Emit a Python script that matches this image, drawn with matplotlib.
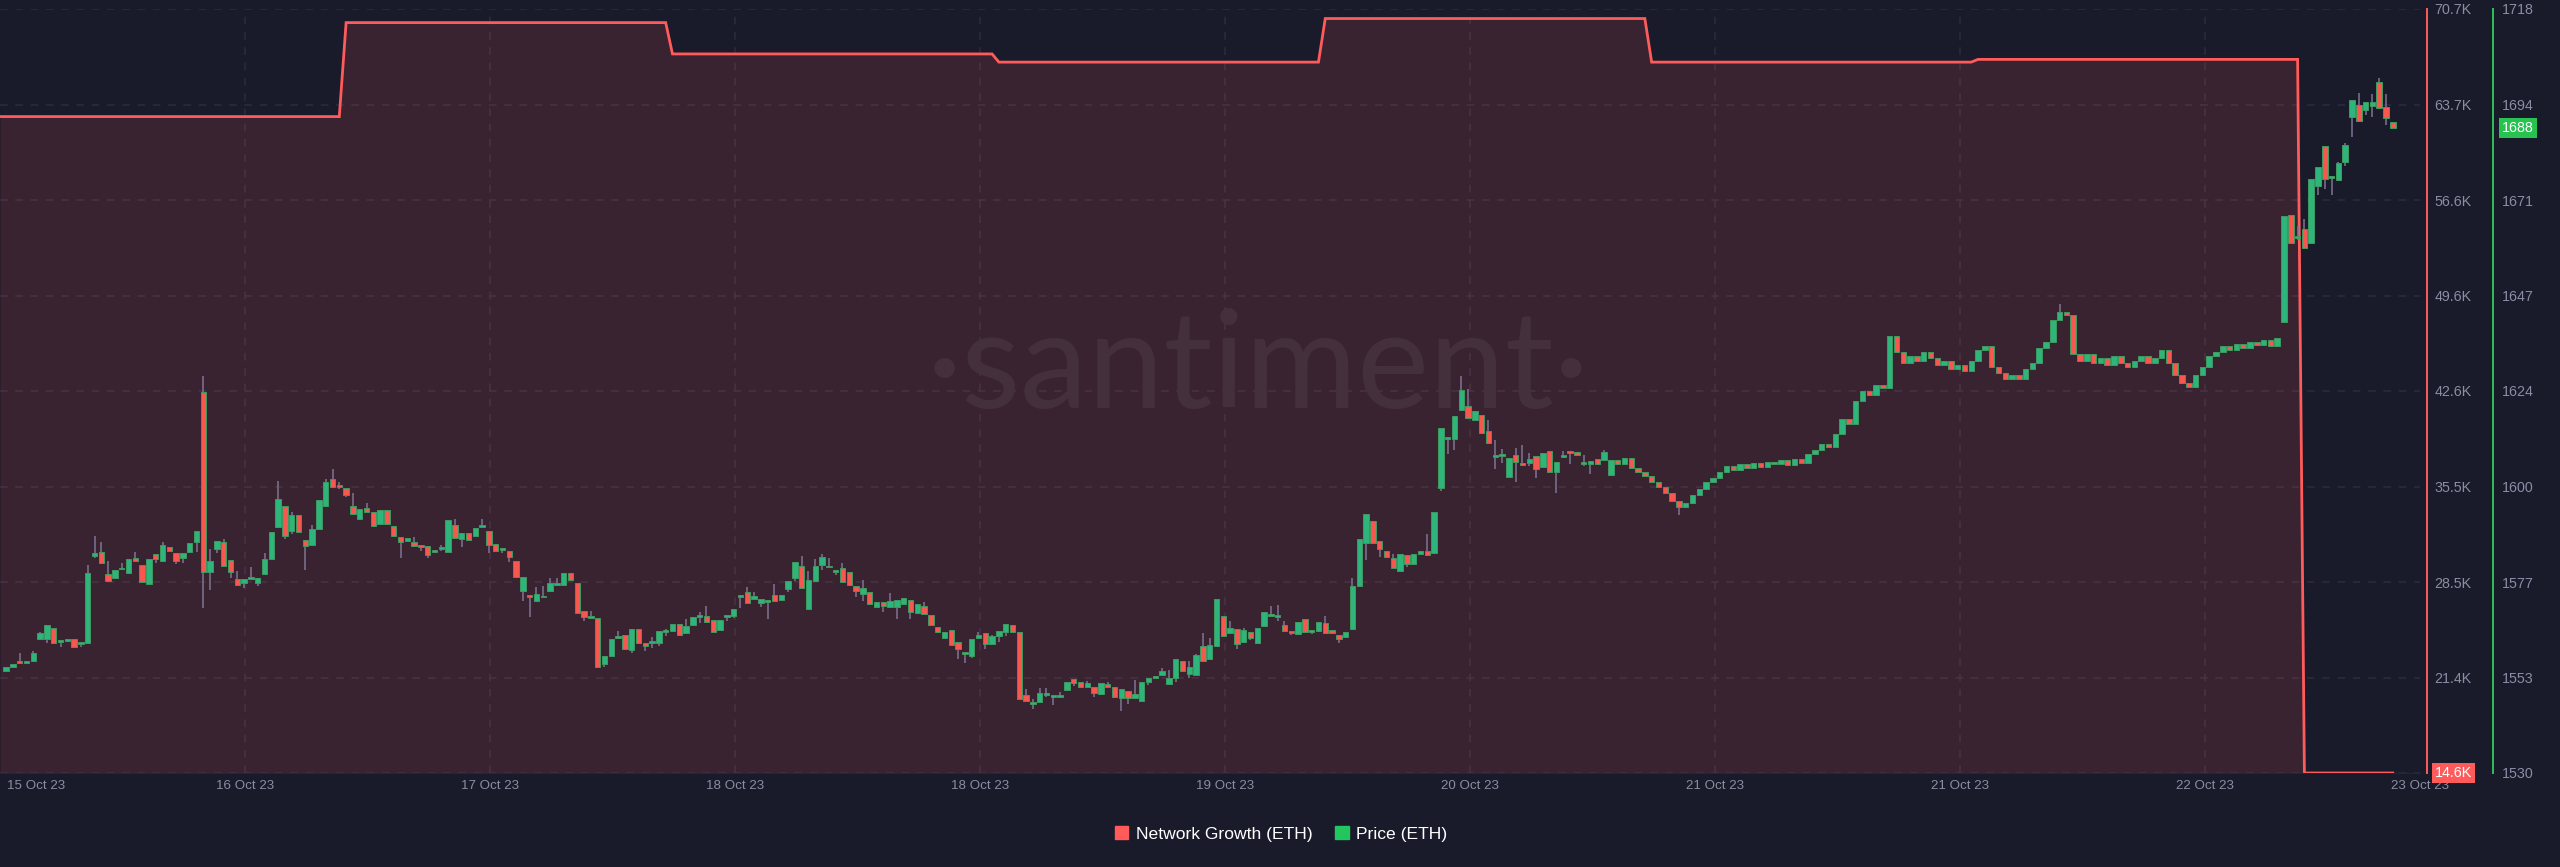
import numpy as np
import matplotlib
matplotlib.use("Agg")
import matplotlib.pyplot as plt
from matplotlib.patches import Patch
from matplotlib.transforms import blended_transform_factory

# ---- network growth (ETH), one value per day, in thousands ----
ng_daily = [62.8, 69.7, 67.4, 66.8, 70.0, 66.8, 67.0, 14.6]
ng_first_step = 49          # candle index where the first daily step happens
candles_per_day = 48        # 30 min candles

# ---- price (ETH) 30 min candles ----
price_open = [
    1555.2, 1556.0, 1557.2, 1557.0, 1557.5, 1563.0, 1563.0, 1565.6, 1562.2, 1562.5,
    1562.9, 1561.8, 1562.1, 1583.5, 1584.3, 1579.0, 1578.0, 1580.1, 1579.1, 1582.8,
    1581.2, 1576.4, 1583.9, 1582.1, 1585.5, 1584.2, 1582.9, 1584.4, 1586.8, 1623.7,
    1579.5, 1585.2, 1586.9, 1582.5, 1577.7, 1576.8, 1577.7, 1576.8, 1578.9, 1582.6,
    1590.5, 1595.7, 1589.6, 1593.5, 1587.3, 1586.0, 1590.0, 1595.8, 1602.3, 1600.5,
    1600.2, 1595.7, 1592.4, 1595.1, 1594.3, 1591.3, 1594.7, 1590.7, 1588.1, 1587.0,
    1586.8, 1585.9, 1585.9, 1584.9, 1585.2, 1584.4, 1591.0, 1587.6, 1589.0, 1588.3,
    1590.5, 1589.6, 1586.3, 1585.1, 1584.6, 1582.2, 1574.7, 1573.8, 1572.4, 1573.2,
    1574.8, 1576.3, 1576.2, 1579.1, 1576.8, 1569.9, 1568.3, 1568.1, 1556.8, 1558.8,
    1563.3, 1564.0, 1560.3, 1565.4, 1561.9, 1562.0, 1562.1, 1564.7, 1565.0, 1566.6,
    1564.4, 1566.3, 1568.5, 1568.7, 1567.7, 1565.2, 1568.4, 1568.7, 1573.2, 1574.6,
    1572.7, 1571.8, 1572.6, 1573.8, 1572.6, 1575.3, 1577.9, 1580.9, 1570.3, 1577.3,
    1581.2, 1580.9, 1579.5, 1580.4, 1579.5, 1576.0, 1574.0, 1574.5, 1570.9, 1572.0,
    1570.9, 1570.9, 1571.5, 1572.6, 1569.3, 1571.2, 1569.0, 1566.0, 1563.1, 1565.2,
    1562.3, 1559.7, 1558.9, 1563.1, 1564.5, 1561.7, 1563.6, 1564.6, 1566.3, 1564.8,
    1549.2, 1547.3, 1547.4, 1549.2, 1548.8, 1548.8, 1550.4, 1553.1, 1552.3, 1551.1,
    1551.1, 1549.4, 1551.9, 1551.2, 1548.4, 1550.2, 1548.4, 1547.8, 1552.5, 1553.5,
    1554.0, 1551.9, 1553.5, 1557.5, 1554.4, 1554.2, 1561.3, 1558.0, 1561.3, 1568.7,
    1564.5, 1565.5, 1562.2, 1564.7, 1562.1, 1566.2, 1568.6, 1568.3, 1566.3, 1564.6,
    1564.2, 1567.8, 1564.9, 1565.0, 1567.0, 1565.2, 1564.0, 1563.4, 1565.4, 1576.0,
    1586.5, 1591.9, 1587.2, 1584.7, 1583.0, 1579.8, 1583.7, 1581.4, 1583.9, 1584.7,
    1584.2, 1600.1, 1612.2, 1612.2, 1619.3, 1620.2, 1616.9, 1618.1, 1614.2, 1607.7,
    1608.0, 1602.9, 1608.3, 1606.1, 1606.2, 1607.9, 1605.2, 1609.3, 1604.0, 1607.7,
    1609.1, 1609.1, 1606.5, 1606.0, 1607.2, 1606.9, 1603.4, 1607.0, 1606.0, 1607.5,
    1605.0, 1604.0, 1603.0, 1601.5, 1600.5, 1599.0, 1597.0, 1595.5, 1596.5, 1598.5,
    1600.0, 1601.5, 1602.5, 1604.0, 1605.5, 1604.5, 1606.0, 1605.0, 1606.2, 1605.4,
    1606.5, 1606.0, 1607.0, 1605.8, 1607.2, 1606.4, 1608.5, 1609.5, 1611.0, 1610.2,
    1613.5, 1617.0, 1616.0, 1621.5, 1624.0, 1623.0, 1625.5, 1624.8, 1637.5, 1633.5,
    1631.0, 1632.5, 1631.5, 1633.5, 1632.0, 1630.5, 1631.5, 1629.5, 1630.5, 1629.0,
    1631.5, 1634.0, 1635.0, 1630.0, 1628.5, 1627.0, 1628.0, 1627.0, 1629.5, 1631.0,
    1634.5, 1636.0, 1641.5, 1643.5, 1642.8, 1633.0, 1631.5, 1633.0, 1631.0, 1632.0,
    1630.5, 1632.5, 1631.0, 1630.0, 1631.5, 1632.5, 1631.0, 1632.0, 1634.0, 1631.0,
    1628.0, 1626.0, 1625.0, 1628.0, 1630.0, 1632.5, 1633.5, 1635.0, 1634.0, 1635.5,
    1634.5, 1636.0, 1635.2, 1636.5, 1635.0, 1641.0, 1667.3, 1661.7, 1663.8, 1660.5,
    1674.5, 1684.4, 1676.5, 1675.8, 1680.3, 1691.5, 1694.3, 1693.2, 1694.2, 1700.1,
    1694.0, 1690.1,
]
price_close = [
    1556.0, 1556.8, 1557.0, 1557.6, 1559.6, 1564.4, 1566.3, 1561.9, 1562.3, 1562.9,
    1561.1, 1562.3, 1579.3, 1584.1, 1581.6, 1577.3, 1580.0, 1580.3, 1582.7, 1582.1,
    1577.1, 1582.6, 1582.6, 1586.1, 1584.6, 1582.2, 1584.2, 1586.6, 1589.6, 1579.4,
    1582.1, 1587.0, 1581.0, 1579.4, 1576.2, 1577.8, 1577.8, 1577.9, 1582.6, 1589.4,
    1597.4, 1588.4, 1593.6, 1589.2, 1585.9, 1590.0, 1597.1, 1601.6, 1600.5, 1600.3,
    1598.3, 1593.7, 1595.0, 1594.3, 1590.8, 1594.8, 1591.3, 1588.2, 1586.9, 1587.8,
    1585.8, 1585.6, 1583.7, 1584.3, 1585.5, 1592.2, 1587.8, 1589.0, 1587.3, 1590.4,
    1590.9, 1586.0, 1584.6, 1584.9, 1583.2, 1578.2, 1578.2, 1573.2, 1574.1, 1573.3,
    1576.8, 1576.7, 1579.1, 1577.4, 1569.3, 1568.3, 1568.2, 1556.0, 1558.9, 1562.9,
    1563.5, 1560.5, 1565.4, 1562.1, 1561.3, 1562.1, 1564.9, 1564.8, 1566.7, 1564.0,
    1566.2, 1568.5, 1568.9, 1567.1, 1564.6, 1567.7, 1568.5, 1570.4, 1573.7, 1571.8,
    1573.6, 1572.7, 1572.2, 1572.4, 1573.8, 1577.3, 1581.8, 1575.6, 1577.5, 1581.0,
    1583.2, 1580.6, 1580.0, 1577.1, 1576.3, 1574.8, 1575.6, 1571.5, 1572.2, 1571.2,
    1572.3, 1572.6, 1573.0, 1569.7, 1571.6, 1569.1, 1566.4, 1564.8, 1564.8, 1561.5,
    1560.5, 1559.4, 1562.9, 1564.0, 1561.7, 1563.6, 1565.0, 1566.7, 1564.8, 1548.1,
    1547.7, 1547.1, 1549.8, 1549.4, 1549.2, 1549.1, 1552.4, 1552.2, 1551.2, 1552.1,
    1549.6, 1552.2, 1551.2, 1548.6, 1550.6, 1548.4, 1549.4, 1552.4, 1553.5, 1553.8,
    1555.1, 1553.5, 1558.1, 1555.2, 1556.0, 1559.0, 1557.6, 1561.5, 1572.8, 1563.8,
    1565.8, 1561.7, 1565.2, 1563.3, 1565.8, 1569.5, 1568.7, 1569.0, 1564.9, 1564.5,
    1567.2, 1564.8, 1564.7, 1567.1, 1564.5, 1564.4, 1563.0, 1564.6, 1576.0, 1587.5,
    1593.7, 1586.7, 1585.0, 1583.2, 1580.4, 1583.8, 1581.4, 1583.9, 1584.7, 1583.7,
    1594.2, 1615.0, 1612.8, 1617.9, 1624.2, 1617.3, 1619.2, 1613.6, 1611.1, 1607.8,
    1608.3, 1607.6, 1606.5, 1605.8, 1607.3, 1604.8, 1608.7, 1604.0, 1606.6, 1608.1,
    1608.7, 1608.3, 1606.1, 1606.8, 1606.0, 1608.9, 1607.0, 1606.0, 1607.5, 1605.0,
    1604.0, 1603.0, 1601.5, 1600.5, 1599.0, 1597.0, 1595.5, 1596.5, 1598.5, 1600.0,
    1601.5, 1602.5, 1604.0, 1605.5, 1604.5, 1606.0, 1605.0, 1606.2, 1605.4, 1606.5,
    1606.0, 1607.0, 1605.8, 1607.2, 1606.4, 1608.5, 1609.5, 1611.0, 1610.2, 1613.5,
    1617.0, 1616.0, 1621.5, 1624.0, 1623.0, 1625.5, 1624.8, 1637.5, 1633.5, 1631.0,
    1632.5, 1631.5, 1633.5, 1632.0, 1630.5, 1631.5, 1629.5, 1630.5, 1629.0, 1631.5,
    1634.0, 1635.0, 1630.0, 1628.5, 1627.0, 1628.0, 1627.0, 1629.5, 1631.0, 1634.5,
    1636.0, 1641.5, 1643.5, 1642.8, 1633.0, 1631.5, 1633.0, 1631.0, 1632.0, 1630.5,
    1632.5, 1631.0, 1630.0, 1631.5, 1632.5, 1631.0, 1632.0, 1634.0, 1631.0, 1628.0,
    1626.0, 1625.0, 1628.0, 1630.0, 1632.5, 1633.5, 1635.0, 1634.0, 1635.5, 1634.5,
    1636.0, 1635.2, 1636.5, 1635.0, 1637.0, 1667.1, 1660.4, 1662.1, 1659.1, 1676.1,
    1679.2, 1676.2, 1676.7, 1680.0, 1684.6, 1695.6, 1690.5, 1695.0, 1695.0, 1693.6,
    1691.1, 1688.7,
]
# wicks that stick out of the body, by candle index
wick_high = {
    2: 1559.5, 4: 1560.0, 5: 1564.8, 12: 1581.2, 13: 1588.2, 14: 1586.9, 15: 1582.2,
    17: 1581.6, 19: 1584.5, 23: 1586.9, 29: 1627.8, 30: 1585.0, 32: 1587.7, 34: 1579.7,
    36: 1580.8, 38: 1584.2, 40: 1601.9, 42: 1594.2, 45: 1591.0, 47: 1602.3, 48: 1604.7,
    49: 1601.7, 51: 1598.8, 53: 1596.5, 60: 1588.0, 64: 1586.0, 66: 1592.4, 70: 1592.5,
    78: 1575.8, 79: 1576.0, 80: 1577.9, 81: 1578.1, 86: 1569.9, 90: 1564.9, 95: 1563.5,
    97: 1565.5, 100: 1567.8, 102: 1569.5, 103: 1571.2, 106: 1568.9, 109: 1575.8,
    110: 1574.6, 113: 1576.4, 117: 1583.5, 118: 1579.8, 119: 1582.6, 120: 1583.9,
    121: 1582.8, 123: 1581.6, 126: 1577.5, 130: 1574.2, 135: 1572.2, 143: 1564.8,
    145: 1564.0, 150: 1550.6, 151: 1548.1, 152: 1551.0, 153: 1550.8, 155: 1550.0,
    159: 1552.7, 162: 1552.5, 166: 1552.9, 170: 1555.9, 171: 1555.4, 174: 1557.6,
    175: 1559.4, 176: 1564.4, 177: 1563.3, 180: 1567.4, 182: 1565.8, 186: 1571.2,
    187: 1571.4, 188: 1567.4, 189: 1564.9, 191: 1568.0, 192: 1565.3, 194: 1568.7,
    198: 1577.9, 204: 1583.8, 209: 1588.8, 214: 1627.8, 215: 1624.4, 218: 1616.9,
    219: 1612.0, 220: 1609.7, 222: 1609.9, 223: 1610.6, 224: 1608.8, 229: 1609.3,
    232: 1608.3, 235: 1609.5, 302: 1645.5, 337: 1664.5, 338: 1666.3, 343: 1680.4,
    344: 1685.1, 346: 1697.3, 348: 1697.0, 349: 1701.0, 350: 1697.1,
}
wick_low = {
    5: 1562.7, 6: 1561.9, 8: 1561.0, 11: 1560.9, 13: 1582.8, 22: 1581.6, 25: 1581.4,
    26: 1581.6, 28: 1584.4, 29: 1570.5, 30: 1575.0, 31: 1584.2, 33: 1577.9, 35: 1575.6,
    37: 1576.0, 41: 1587.7, 42: 1588.8, 44: 1580.0, 49: 1599.9, 50: 1597.8, 58: 1582.9,
    61: 1584.7, 62: 1583.0, 64: 1584.6, 67: 1585.5, 71: 1584.1, 73: 1584.1, 74: 1582.0,
    76: 1572.4, 77: 1568.3, 85: 1567.5, 88: 1556.0, 92: 1559.5, 94: 1559.9, 95: 1560.7,
    96: 1561.3, 97: 1563.6, 102: 1566.9, 106: 1567.3, 107: 1568.1, 108: 1570.7,
    111: 1570.9, 112: 1567.8, 115: 1574.6, 116: 1577.3, 120: 1580.0, 122: 1578.8,
    125: 1573.4, 126: 1572.4, 129: 1569.6, 131: 1568.0, 133: 1567.8, 140: 1558.0,
    141: 1557.0, 142: 1558.2, 144: 1560.5, 146: 1562.3, 147: 1563.6, 151: 1545.7,
    153: 1548.6, 154: 1546.7, 157: 1551.3, 160: 1548.8, 164: 1545.3, 165: 1546.9,
    168: 1551.7, 171: 1551.6, 172: 1552.5, 174: 1553.3, 181: 1560.4, 183: 1562.8,
    187: 1567.5, 189: 1563.9, 192: 1564.2, 196: 1561.9, 200: 1582.4, 202: 1583.2,
    206: 1580.8, 211: 1599.3, 212: 1608.6, 213: 1609.4, 219: 1604.8, 220: 1606.2,
    222: 1601.5, 224: 1605.5, 225: 1602.5, 228: 1598.8, 230: 1606.0, 232: 1605.5,
    233: 1603.6, 246: 1593.5, 337: 1661.2, 340: 1672.2, 341: 1673.8, 342: 1672.3,
    344: 1679.3, 345: 1686.4, 347: 1691.9, 348: 1691.4, 350: 1689.5,
}

# ---- axes labels ----
date_ticks = [35.1, 71.2, 107.2, 143.2, 179.3, 215.3, 251.3, 287.4, 323.4]
date_labels = ["16 Oct 23", "17 Oct 23", "18 Oct 23", "18 Oct 23", "19 Oct 23",
               "20 Oct 23", "21 Oct 23", "21 Oct 23", "22 Oct 23"]
first_date, last_date = "15 Oct 23", "23 Oct 23"
ng_labels = ["", "21.4K", "28.5K", "35.5K", "42.6K", "49.6K", "56.6K", "63.7K", "70.7K"]
price_labels = ["1530", "1553", "1577", "1600", "1624", "1647", "1671", "1694", "1718"]
ng_min, ng_max = 14.6, 70.7
price_min, price_max = 1530, 1718
last_price_tag = "1688"
last_ng_tag = "14.6K"

BG = "#191a2a"
RED = "#ff5b5b"
GREEN_LINE = "#2fc15a"
UP = "#2eb57c"
DOWN = "#f65850"
GRID = "#2a2c40"
TXT = "#8a8ea4"

plt.rcParams["font.family"] = ["Liberation Sans", "DejaVu Sans"]

fig = plt.figure(figsize=(25.6, 8.67), dpi=100, facecolor=BG)
ax = fig.add_axes([0, 94 / 867, 2420 / 2560, 764 / 867])
ax.set_facecolor(BG)
n = len(price_open)
x_left, x_right = -0.9, 355.0
ax.set_xlim(x_left, x_right)
ax.set_ylim(ng_min, ng_max)

# network growth line + area
ng_x, ng_y = [x_left], [ng_daily[0]]
for d, v in enumerate(ng_daily):
    start = x_left if d == 0 else ng_first_step + 1 + candles_per_day * (d - 1)
    end = ng_first_step + candles_per_day * d if d < len(ng_daily) - 1 else n - 1
    ng_x += [start, end]
    ng_y += [v, v]
ax.fill_between(ng_x, ng_y, ng_min, color=RED, alpha=0.145, lw=0, zorder=1)
ax.plot(ng_x, ng_y, color=RED, lw=2.0, zorder=3, solid_joinstyle="miter")

# watermark
ax.text(0.4915, 0.574, "·santiment·", transform=fig.transFigure, ha="center",
        va="center", fontsize=98, family=["Lato", "DejaVu Sans"], weight="normal",
        color="#44303d", zorder=1.5)

# price candles (twin axis)
ax2 = ax.twinx()
ax2.set_ylim(price_min, price_max)
ax2.set_xlim(x_left, x_right)
o = np.array(price_open)
c = np.array(price_close)
xs = np.arange(n)
hi = np.maximum(o, c)
lo = np.minimum(o, c)
for k, v in wick_high.items():
    hi[k] = max(hi[k], v)
for k, v in wick_low.items():
    lo[k] = min(lo[k], v)
ax2.vlines(xs, lo, hi, color="#7f7494", lw=1.1, zorder=2)
up = c >= o
ax2.bar(xs, np.maximum(np.abs(c - o), 0.45), bottom=np.minimum(o, c), width=0.8,
        color=np.where(up, UP, DOWN), edgecolor="#3f9960", linewidth=0.7, zorder=3)

# grid + network growth axis (after twinx, which resets tick side)
ax.set_yticks(np.linspace(ng_min, ng_max, 9))
ax.set_yticklabels(ng_labels)
ax.set_xticks(date_ticks)
ax.set_xticklabels(date_labels)
ax.grid(True, color=GRID, lw=1.1, ls=(0, (5, 5)))
ax.set_axisbelow(True)
ax.yaxis.tick_right()
ax.yaxis.set_label_position("right")
ax.tick_params(axis="y", length=0, pad=5.2, labelsize=10.3, labelcolor=TXT,
               left=False, labelleft=False, right=True, labelright=True)
ax.tick_params(axis="x", length=0, pad=5, labelsize=9.6, labelcolor=TXT)
for s in ["top", "left"]:
    ax.spines[s].set_visible(False)
ax.spines["bottom"].set_color("#23253a")
ax.spines["right"].set_visible(True)
ax.spines["right"].set_color(RED)
ax.spines["right"].set_linewidth(1.4)
ax.spines["right"].set_position(("outward", 5))

tr = ax.transAxes
ax.text(0.003, -0.0095, first_date, transform=tr, ha="left", va="top",
        fontsize=9.6, color=TXT)
ax.text(1.0, -0.0095, last_date, transform=tr, ha="center", va="top",
        fontsize=9.6, color=TXT)

ax2.set_yticks(np.linspace(price_min, price_max, 9))
ax2.set_yticklabels(price_labels)
ax2.tick_params(axis="y", length=0, pad=6.5, labelsize=10.3, labelcolor=TXT)
for s in ["top", "left", "bottom"]:
    ax2.spines[s].set_visible(False)
ax2.spines["right"].set_color(GREEN_LINE)
ax2.spines["right"].set_linewidth(1.4)
ax2.spines["right"].set_position(("outward", 52.6))

# value tags on the axes
trp = blended_transform_factory(ax2.transAxes, ax2.transData)
ax2.text(2502 / 2420, price_close[-1], last_price_tag, transform=trp, ha="left",
         va="center", fontsize=10.3, color="white", clip_on=False,
         bbox=dict(boxstyle="square,pad=0.22", fc="#27c24f", ec="none"))
trn = blended_transform_factory(ax.transAxes, ax.transData)
ax.text(2435 / 2420, ng_min, last_ng_tag, transform=trn, ha="left", va="center",
        fontsize=10.3, color="white", clip_on=False, zorder=5,
        bbox=dict(boxstyle="square,pad=0.22", fc=RED, ec="none"))

handles = [Patch(color=RED, label="Network Growth (ETH)"),
           Patch(color="#22c55e", label="Price (ETH)")]
fig.legend(handles=handles, loc="center", bbox_to_anchor=(0.5005, 0.038), ncol=2,
           frameon=False, fontsize=12.6, labelcolor="white", handlelength=0.75,
           handleheight=0.75, handletextpad=0.45, columnspacing=1.3)

fig.savefig("out.png", dpi=100, facecolor=BG)
